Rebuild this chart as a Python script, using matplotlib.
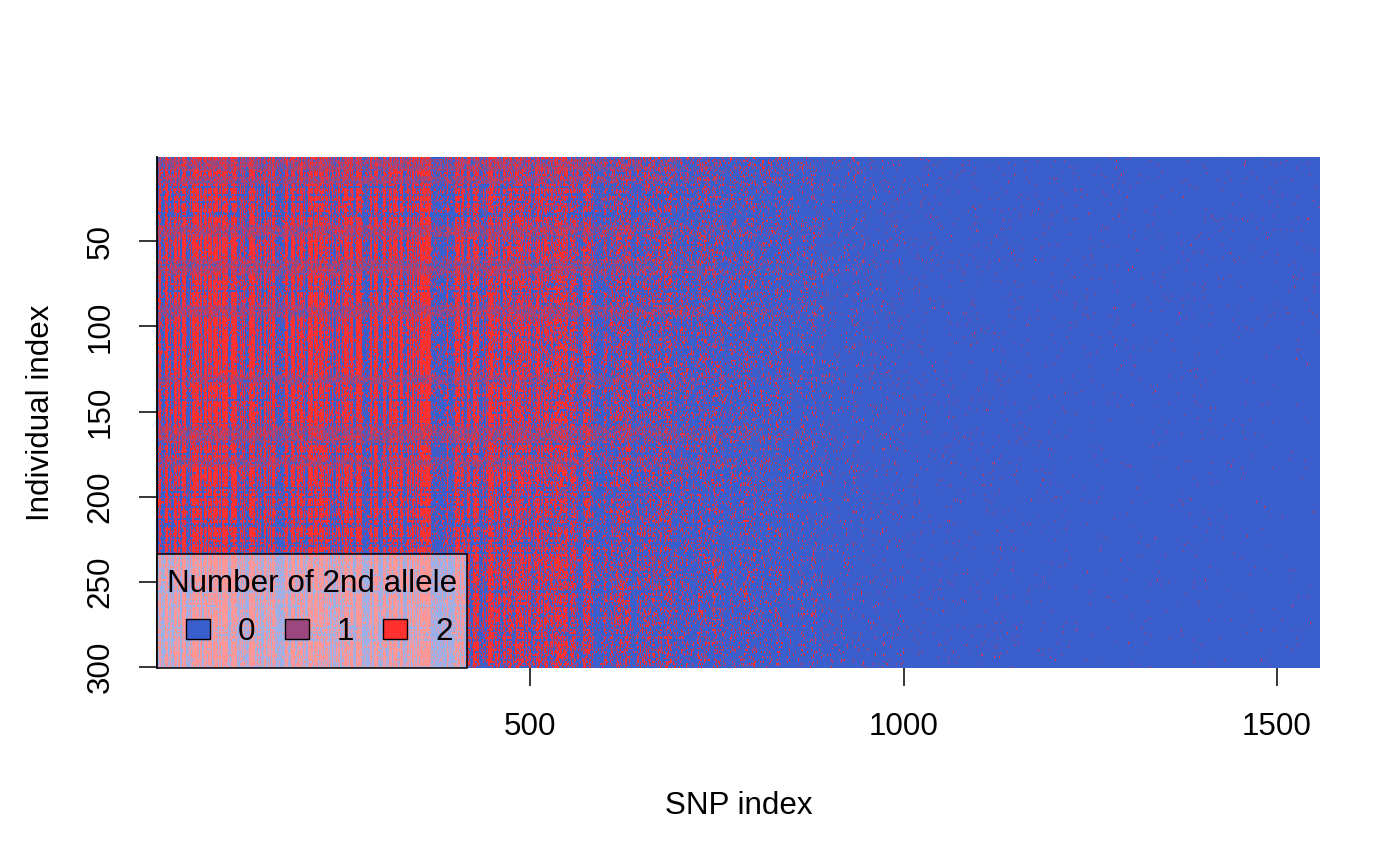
import numpy as np
import matplotlib
matplotlib.use("Agg")
import matplotlib.pyplot as plt
from matplotlib.colors import ListedColormap
from matplotlib.patches import Patch, Rectangle

plt.rcParams['font.family'] = ['Liberation Sans', 'DejaVu Sans']

# tamaño de la matriz (individuos x SNPs)
n_ind = 300
n_snp = 1557
block_size = 50

# fraccion de genotipo 2 (rojo) por bloque de 50 SNPs
red_frac = [0.66, 0.68, 0.66, 0.66, 0.64, 0.64, 0.63, 0.62, 0.55, 0.50,
            0.46, 0.42, 0.30, 0.27, 0.20, 0.15, 0.11, 0.08, 0.03, 0.015,
            0.005, 0.003, 0.002, 0.0015, 0.001, 0.001, 0.001, 0.001, 0.001, 0.001,
            0.001, 0.001]
# fraccion de heterocigotos (1, morado) por bloque de 50 SNPs
het_frac = [0.04, 0.04, 0.04, 0.04, 0.04, 0.04, 0.04, 0.04, 0.04, 0.04,
            0.04, 0.04, 0.038, 0.036, 0.034, 0.032, 0.03, 0.028, 0.026, 0.024,
            0.022, 0.02, 0.016, 0.013, 0.011, 0.009, 0.008, 0.007, 0.006, 0.006,
            0.006, 0.006]
# filas (individuos) con bandas moradas visibles
het_bands = [(2, 8), (12, 16), (41, 47), (61, 69), (88, 94), (129, 133), (159, 168), (178, 182)]

genotypes = [0, 1, 2]
geno_colors = ['#3A5FCD', '#9C477E', '#FF3030']
x_ticks = [500, 1000, 1500]
y_ticks = [50, 100, 150, 200, 250, 300]

fs = 22.6


def dither(filas, cols, salt):
    # textura fija y determinista para el detalle de cada celda (no legible en la imagen)
    a = (np.asarray(filas, dtype=np.uint64) * np.uint64(0x9E3779B97F4A7C15)) ^ \
        (np.asarray(cols, dtype=np.uint64) * np.uint64(0xC2B2AE3D27D4EB4F)) ^ \
        np.uint64((salt * 0x165667B19E3779F9) & 0xFFFFFFFFFFFFFFFF)
    a = a ^ (a >> np.uint64(30))
    a = a * np.uint64(0xBF58476D1CE4E5B9)
    a = a ^ (a >> np.uint64(27))
    a = a * np.uint64(0x94D049BB133111EB)
    a = a ^ (a >> np.uint64(31))
    return (a >> np.uint64(11)).astype(np.float64) / 2.0 ** 53


snp = np.arange(1, n_snp + 1)
ind = np.arange(1, n_ind + 1)
bloque = (snp - 1) // block_size
R = np.array(red_frac)[bloque]
H = np.array(het_frac)[bloque]
cero = np.zeros(n_snp, dtype=np.int64)

# frecuencia por columna: columnas casi rojas o casi azules (rayas verticales),
# columnas vecinas parecidas (grupos de 4)
u_grupo = dither(cero, snp // 4, 1)
u_solo = dither(cero, snp, 11)
u1 = np.where(dither(cero, snp, 12) < 0.65, u_grupo, u_solo)
u2 = dither(cero, snp, 2)
w = np.where(u1 < 0.6, 1.5, 0.25) * (0.85 + 0.3 * u2)
q = np.clip(R * w, 0, 0.97)

# factor por fila (lineas horizontales mas azules o mas rojas)
v1 = dither(ind, np.zeros(n_ind, dtype=np.int64), 3)
f_fila = np.where(v1 < 0.10, 0.5, np.where(v1 > 0.92, 1.1, 1.0))

filas = ind[:, None]
cols = snp[None, :]
es_rojo = dither(filas, cols, 4) < np.clip(q[None, :] * f_fila[:, None], 0, 0.985)

# heterocigotos: fondo por bloque + bandas de individuos en la parte comun
mult = np.where(ind <= 100, 1.2, 0.85)
banda = np.zeros(n_ind)
for a, b in het_bands:
    banda[(ind >= a) & (ind <= b)] = 0.55
u3 = dither(cero + 7, snp, 8)
p_het = mult[:, None] * (H * (0.4 + 1.2 * u3))[None, :] + \
    banda[:, None] * np.minimum(1, 2.0 * R)[None, :]
es_het = dither(filas, cols, 6) < p_het

geno = np.where(es_het, 1, np.where(es_rojo, 2, 0))

# grafico
W, Hpx = 1400, 865
x0, x1, y0, y1 = 157, 1320, 157, 668
fig = plt.figure(figsize=(W / 100, Hpx / 100), dpi=100)
ax = fig.add_axes([x0 / W, 1 - y1 / Hpx, (x1 - x0) / W, (y1 - y0) / Hpx])
ax.imshow(geno, cmap=ListedColormap(geno_colors), vmin=-0.5, vmax=2.5,
          aspect='auto', interpolation='nearest',
          extent=(0.5, n_snp + 0.5, n_ind + 0.5, 0.5))

ax.set_xticks(x_ticks)
ax.set_yticks(y_ticks)
ax.tick_params(axis='both', length=13, width=1.1, labelsize=fs, color='black')
ax.tick_params(axis='x', pad=19)
ax.tick_params(axis='y', pad=17)
for lab in ax.get_yticklabels():
    lab.set_rotation(90)
    lab.set_va('center')
for s in ['top', 'right', 'bottom']:
    ax.spines[s].set_visible(False)
ax.spines['left'].set_linewidth(1.3)

ax.set_xlabel('SNP index', fontsize=fs, labelpad=35)
ax.set_ylabel('Individual index', fontsize=fs, labelpad=21)


# leyenda: caja con fondo blanco semitransparente, titulo y fila de entradas
def px_ax(px, py):
    return ((px - x0) / (x1 - x0), (y1 - py) / (y1 - y0))


bx, by = px_ax(157, 668)
bx2, by2 = px_ax(467, 554)
ax.add_patch(Rectangle((bx, by), bx2 - bx, by2 - by, transform=ax.transAxes,
                       facecolor=(1, 1, 1, 0.5), edgecolor='black', linewidth=1.1,
                       zorder=4, clip_on=False))
ax.text(*px_ax(312.5, 592), 'Number of 2nd allele', transform=ax.transAxes,
        ha='center', va='baseline', fontsize=fs, zorder=6)

handles = [Patch(facecolor=c, edgecolor='black', linewidth=1, label=str(g))
           for g, c in zip(genotypes, geno_colors)]
leg = ax.legend(handles=handles, ncol=3,
                loc='center left', bbox_to_anchor=px_ax(186, 632), borderaxespad=0,
                frameon=False, handlelength=0.76, handleheight=0.62, handletextpad=0.88,
                columnspacing=0.95, borderpad=0, fontsize=fs)
leg.set_zorder(5)

fig.savefig('out.png', dpi=100)
